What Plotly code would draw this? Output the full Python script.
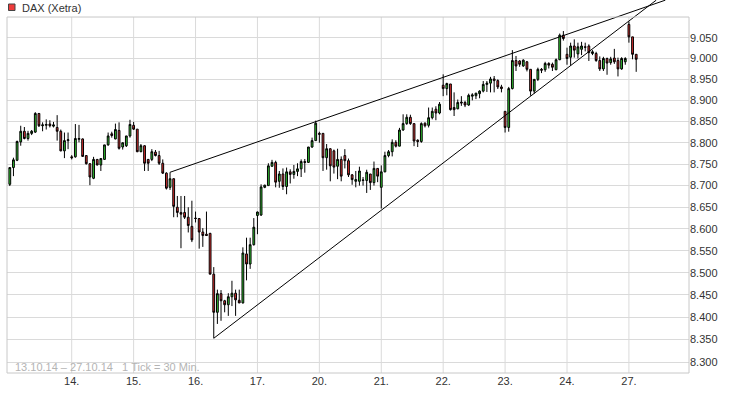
import math
import plotly.graph_objects as go

# ---------------- data ----------------
days = ["13.", "14.", "15.", "16.", "17.", "20.", "21.", "22.", "23.", "24.", "27."]
slots_per_day = 17  # 30-minute candles per Xetra session

opens = [
    # 13.
    8703, 8742, 8759, 8802, 8827, 8810, 8822, 8825, 8869, 8840, 8841, 8844, 8839, 8836, 8827, 8781, 8805,
    # 14.
    8767, 8767, 8808, 8809, 8770, 8751, 8717, 8761, 8748, 8761, 8795, 8821, 8809, 8829, 8790, 8793, 8816,
    # 15.
    8841, 8832, 8779, 8793, 8761, 8761, 8778, 8770, 8752, 8729, 8696, 8716, 8650, 8638, 8638, 8627, 8606,
    # 16.
    8625, 8624, 8593, 8588, 8590, 8497, 8411, 8453, 8437, 8428, 8446, 8454, 8438, 8432, 8543, 8520, 8564,
    # 17.
    8631, 8632, 8696, 8700, 8745, 8754, 8710, 8727, 8698, 8732, 8726, 8733, 8739, 8756, 8754, 8790, 8805,
    # 20.
    8822, 8822, 8765, 8786, 8781, 8745, 8761, 8770, 8758, 8725, 8710, 8710, 8712, 8712, 8727, 8707, 8740,
    # 21.
    8696, 8732, 8770, 8779, 8801, 8792, 8830, 8845, 8860, 8845, 8806, 8803, 8846, 8841, 8859, 8879, 8870,
    # 22.
    8936, 8928, 8939, 8883, 8880, 8896, 8895, 8889, 8910, 8911, 8916, 8922, 8938, 8941, 8951, 8947, 8932,
    # 23.
    8874, 8836, 8928, 8995, 8994, 8982, 8992, 8974, 8922, 8950, 8974, 8973, 8988, 8986, 8973, 8997, 9056,
    # 24.
    9010, 9003, 9030, 9011, 9022, 9028, 9030, 9012, 9012, 8995, 8975, 9000, 8990, 9001, 8995, 8975, 8992,
    # 27.
    9082, 9052, 9010,
]
highs = [
    8742, 8765, 8805, 8840, 8837, 8828, 8830, 8872, 8870, 8848, 8855, 8853, 8849, 8865, 8831, 8824, 8824,
    8771, 8844, 8842, 8810, 8771, 8752, 8767, 8762, 8764, 8795, 8824, 8826, 8845, 8848, 8801, 8816, 8854,
    8849, 8832, 8797, 8794, 8762, 8785, 8783, 8781, 8761, 8731, 8731, 8717, 8676, 8676, 8676, 8650, 8665,
    8640, 8625, 8602, 8640, 8591, 8513, 8462, 8461, 8439, 8454, 8482, 8462, 8462, 8558, 8580, 8580, 8625,
    8640, 8703, 8702, 8752, 8760, 8758, 8734, 8740, 8742, 8738, 8748, 8752, 8761, 8762, 8790, 8812, 8852,
    8826, 8823, 8797, 8787, 8784, 8786, 8768, 8785, 8763, 8727, 8734, 8744, 8720, 8737, 8727, 8756, 8740,
    8747, 8779, 8783, 8808, 8806, 8835, 8867, 8867, 8866, 8845, 8808, 8848, 8848, 8883, 8883, 8886, 8896,
    8962, 8942, 8939, 8919, 8902, 8910, 8899, 8916, 8917, 8918, 8924, 8946, 8946, 8956, 8958, 8950, 8937,
    8874, 8932, 9020, 9006, 8996, 8998, 8994, 8974, 8950, 8978, 8977, 8992, 8991, 8990, 9000, 9060, 9066,
    9026, 9038, 9046, 9038, 9040, 9038, 9034, 9020, 9016, 9005, 9004, 9002, 9004, 9023, 9002, 9003, 9003,
    9089, 9052, 9010,
]
lows = [
    8699, 8722, 8757, 8793, 8808, 8805, 8818, 8823, 8837, 8827, 8831, 8836, 8836, 8805, 8780, 8764, 8785,
    8761, 8765, 8801, 8767, 8749, 8701, 8715, 8747, 8734, 8760, 8793, 8812, 8808, 8784, 8784, 8790, 8812,
    8830, 8778, 8778, 8734, 8734, 8757, 8768, 8748, 8727, 8691, 8690, 8627, 8627, 8556, 8623, 8592, 8570,
    8615, 8555, 8559, 8584, 8497, 8353, 8385, 8392, 8411, 8403, 8425, 8403, 8432, 8431, 8483, 8509, 8562,
    8588, 8630, 8694, 8700, 8744, 8696, 8695, 8690, 8680, 8705, 8716, 8722, 8720, 8730, 8753, 8788, 8805,
    8800, 8734, 8737, 8710, 8728, 8715, 8710, 8740, 8720, 8702, 8696, 8700, 8700, 8683, 8690, 8700, 8708,
    8647, 8731, 8766, 8768, 8789, 8792, 8828, 8842, 8842, 8792, 8790, 8800, 8836, 8836, 8855, 8853, 8867,
    8910, 8912, 8876, 8863, 8879, 8887, 8884, 8887, 8900, 8903, 8905, 8919, 8920, 8919, 8919, 8927, 8919,
    8824, 8826, 8926, 8970, 8980, 8980, 8969, 8911, 8916, 8946, 8965, 8968, 8976, 8970, 8972, 8996, 9043,
    8985, 8983, 9002, 9000, 9008, 9017, 8994, 9008, 8992, 8970, 8970, 8961, 8985, 8987, 8957, 8973, 8985,
    9038, 8998, 8968,
]
closes = [
    8742, 8760, 8803, 8827, 8810, 8822, 8827, 8869, 8840, 8842, 8843, 8840, 8842, 8827, 8781, 8805, 8807,
    8765, 8810, 8810, 8768, 8751, 8720, 8761, 8748, 8763, 8795, 8816, 8817, 8831, 8787, 8800, 8816, 8843,
    8832, 8779, 8793, 8752, 8752, 8779, 8770, 8752, 8729, 8694, 8716, 8652, 8638, 8634, 8627, 8608, 8575,
    8624, 8593, 8585, 8585, 8497, 8411, 8453, 8437, 8428, 8446, 8454, 8439, 8432, 8545, 8520, 8564, 8604,
    8639, 8697, 8701, 8746, 8754, 8708, 8727, 8698, 8732, 8726, 8733, 8739, 8756, 8754, 8790, 8805, 8846,
    8820, 8765, 8786, 8746, 8743, 8761, 8722, 8758, 8725, 8714, 8714, 8734, 8713, 8731, 8707, 8740, 8722,
    8732, 8770, 8779, 8801, 8792, 8830, 8845, 8860, 8845, 8804, 8803, 8845, 8840, 8859, 8874, 8870, 8891,
    8928, 8940, 8878, 8878, 8895, 8894, 8889, 8912, 8913, 8917, 8922, 8938, 8941, 8951, 8947, 8932, 8928,
    8836, 8928, 8995, 8982, 8986, 8996, 8974, 8922, 8950, 8974, 8972, 8988, 8984, 8979, 8997, 9056, 9048,
    9000, 9030, 9020, 9028, 9030, 9027, 9014, 9016, 8995, 8975, 9000, 8989, 8999, 8992, 8975, 9000, 9000,
    9052, 9010, 8998,
]

# trend lines: (candle slot, price) end points
upper_trend_x = [44, 180.0]
upper_trend_y = [8731, 9141]
lower_trend_x = [56, 177.5]
lower_trend_y = [8353, 9141]

y_ticks = list(range(8300, 9051, 50))
y_tick_text = ["{:,}".format(v).replace(",", ".") for v in y_ticks]

title_text = "DAX (Xetra)"
NB = "\u00a0"
footer_text = "13.10.14" + NB + "\u2013" + NB + "27.10.14" + NB * 3 + "1" + NB + "Tick" + NB + "=" + NB + "30" + NB + "Min."

# ---------------- geometry ----------------
W, H = 730, 393
ML, MR, MT, MB = 7, 41, 0, 20
plot_h = H - MT - MB
y_lo, y_hi = 8276.0, 9141.4
frame_top_val = 9100.0
lg_lo, lg_hi = math.log10(y_lo), math.log10(y_hi)
frame_top_frac = (math.log10(frame_top_val) - lg_lo) / (lg_hi - lg_lo)

n = len(opens)
x = list(range(n))
day_tick_vals = [d * slots_per_day for d in range(1, len(days))]
day_tick_text = days[1:]

FONT = "Liberation Sans, Arial, sans-serif"

fig = go.Figure()
fig.add_trace(go.Candlestick(
    x=x, open=opens, high=highs, low=lows, close=closes,
    increasing=dict(line=dict(color="#000000", width=1), fillcolor="#33cc33"),
    decreasing=dict(line=dict(color="#000000", width=1), fillcolor="#e63232"),
    whiskerwidth=0, showlegend=False, hoverinfo="skip",
))
for tx, ty in ((upper_trend_x, upper_trend_y), (lower_trend_x, lower_trend_y)):
    fig.add_trace(go.Scatter(x=tx, y=ty, mode="lines",
                             line=dict(color="#000000", width=1),
                             showlegend=False, hoverinfo="skip"))

shapes = []
for v in day_tick_vals:
    shapes.append(dict(type="line", xref="x", yref="paper", x0=v, x1=v,
                       y0=0, y1=frame_top_frac, layer="below",
                       line=dict(color="#dadada", width=1)))
shapes.append(dict(type="rect", xref="paper", yref="paper", x0=0, x1=1,
                   y0=0, y1=frame_top_frac, layer="above",
                   line=dict(color="#c8c8c8", width=1)))


def px_x(p):
    return (p - ML) / (W - ML - MR)


def px_y(p):
    return 1 - (p - MT) / plot_h


shapes.append(dict(type="rect", xref="paper", yref="paper",
                   x0=px_x(8.5), x1=px_x(15), y0=px_y(10.5), y1=px_y(4),
                   fillcolor="#ee3b3b", line=dict(color="#444444", width=1)))

annotations = [
    dict(text=title_text, xref="paper", yref="paper", x=px_x(19.5), y=px_y(8),
         xanchor="left", yanchor="middle", showarrow=False,
         font=dict(family=FONT, size=11, color="#333333")),
    dict(text=footer_text, xref="paper", yref="paper", x=px_x(12.5), y=px_y(366.5),
         xanchor="left", yanchor="middle", showarrow=False,
         font=dict(family=FONT, size=11, color="#b4b4b4")),
]

fig.update_layout(
    width=W, height=H,
    margin=dict(l=ML, r=MR, t=MT, b=MB, pad=0),
    paper_bgcolor="#ffffff", plot_bgcolor="#ffffff",
    shapes=shapes, annotations=annotations,
    font=dict(family=FONT, size=11, color="#333333"),
    showlegend=False,
    xaxis=dict(range=[-0.77, 186.5], showgrid=False, zeroline=False,
               showline=False, ticks="", tickvals=day_tick_vals,
               ticktext=day_tick_text, rangeslider=dict(visible=False),
               tickfont=dict(family=FONT, size=11, color="#333333"),
               fixedrange=True),
    yaxis=dict(type="log", range=[lg_lo, lg_hi], side="right",
               tickvals=y_ticks, ticktext=y_tick_text,
               showgrid=True, gridcolor="#dadada", gridwidth=1,
               zeroline=False, showline=False, ticks="",
               tickfont=dict(family=FONT, size=11, color="#333333"),
               fixedrange=True),
)

fig.write_html("out.html",
               config={"displayModeBar": False, "staticPlot": True},
               post_script="document.body.style.margin='0';document.body.style.overflow='hidden';")
